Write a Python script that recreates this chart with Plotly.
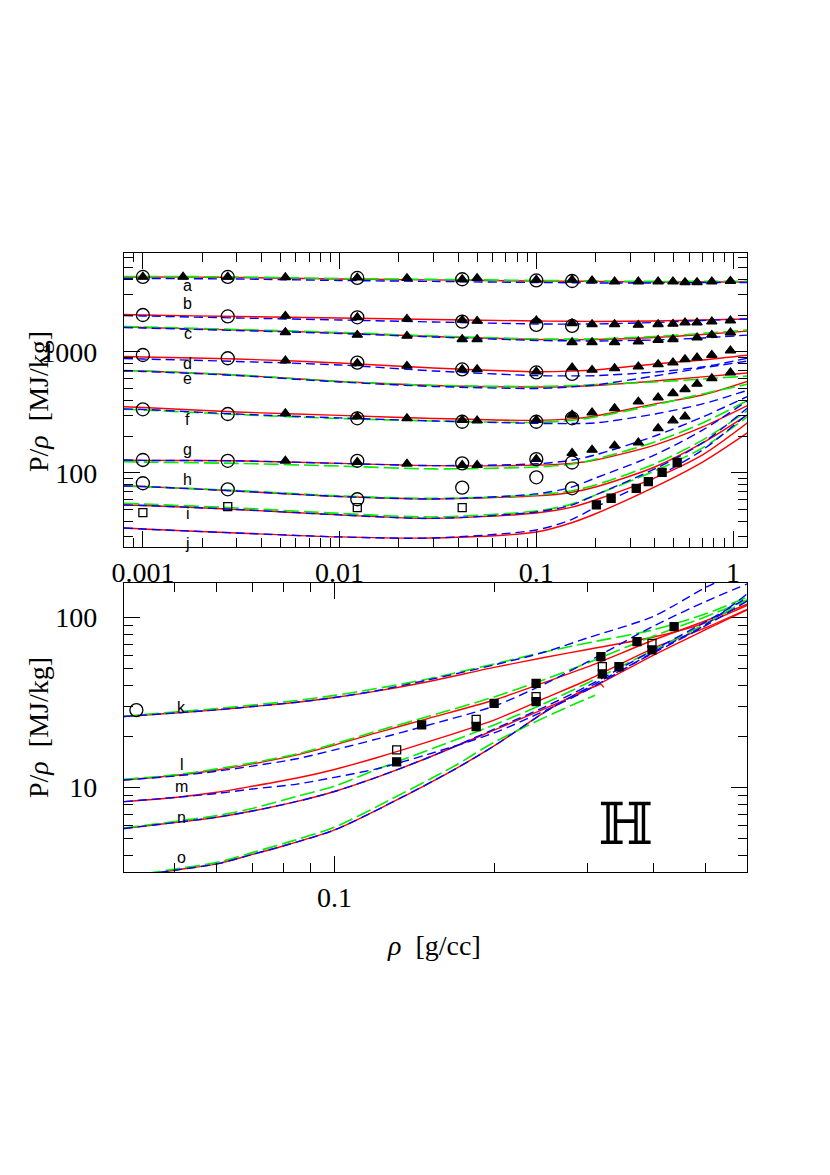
import math
import plotly.graph_objects as go

# ---------------- top panel: isotherms a..j ----------------
rho_top = [0.0008, 0.001, 0.003, 0.01, 0.03, 0.1, 0.15, 0.2, 0.4, 0.7, 1.2]

red_top = {
    "a": [4170, 4170, 4130, 4010, 3940, 3860, 3845, 3830, 3790, 3790, 3790],
    "b": [2040, 2020, 1965, 1910, 1856, 1804, 1795, 1787, 1804, 1839, 1874],
    "c": [1609, 1594, 1520, 1436, 1343, 1269, 1265, 1269, 1318, 1395, 1491],
    "d": [918, 909, 875, 811, 738, 687, 695, 710, 796, 859, 944],
    "e": [701, 697, 645, 570, 529, 514, 519, 529, 576, 622, 671],
    "f": [353, 348, 319, 299, 282, 272, 280, 296, 372, 441, 576],
    "g": [128, 127, 126, 120, 115, 116, 120, 128, 170, 240, 365],
    "h": [78.1, 77.3, 70.9, 63.9, 61.0, 64.6, 69.0, 76.6, 112, 177, 307],
    "i": [54.4, 53.9, 49.9, 45.0, 42.1, 46.7, 52.0, 59.8, 90.9, 141, 264],
    "j": [35.1, 34.4, 31.9, 29.6, 29.0, 32.5, 38.6, 46.0, 76.6, 123, 218],
}
green_top = {
    "a": [4210, 4210, 4170, 4050, 3980, 3900, 3880, 3860, 3830, 3830, 3830],
    "c": [1624, 1609, 1535, 1449, 1356, 1281, 1278, 1281, 1343, 1422, 1520],
    "e": [703, 697, 645, 570, 529, 519, 527, 539, 565, 598, 633],
    "f": [336, 332, 304, 282, 269, 262, 272, 290, 365, 450, 544],
    "g": [124, 123, 120, 114, 108, 112, 118, 130, 180, 259, 401],
    "h": [78.1, 77.3, 71.6, 64.6, 61.6, 65.8, 71.0, 79.6, 119, 187, 332],
    "i": [56.2, 55.4, 51.4, 46.3, 43.3, 48.5, 55.0, 65.8, 104, 161, 296],
}
blue_top = {
    "a": [4050, 4050, 4010, 3900, 3830, 3750, 3735, 3720, 3720, 3750, 3750],
    "b": [2003, 1984, 1910, 1839, 1770, 1704, 1700, 1704, 1753, 1821, 1874],
    "c": [1594, 1579, 1505, 1422, 1330, 1245, 1236, 1233, 1256, 1305, 1382],
    "d": [884, 875, 835, 781, 697, 637, 634, 637, 683, 752, 892],
    "e": [697, 690, 639, 565, 519, 499, 514, 534, 633, 738, 843],
    "f": [338, 335, 307, 285, 269, 257, 256, 259, 307, 372, 485],
    "g": [128, 127, 126, 120, 115, 119, 127, 141, 202, 290, 433],
    "h": [78.1, 77.3, 70.9, 63.9, 61.0, 67.1, 76.0, 90.9, 141, 226, 401],
    "i": [54.4, 53.9, 49.9, 45.0, 42.1, 47.6, 54.0, 65.8, 108, 177, 351],
    "j": [35.1, 34.4, 31.9, 29.6, 29.0, 33.8, 41.0, 52.0, 90.9, 155, 313],
}

# simulation points
rho_circ = [0.001, 0.0027, 0.0123, 0.042, 0.1, 0.152]
circ_top = {
    "a": [4170, 4170, 4090, 3990, 3900, 3860],
    "b": [2020, 1965, 1935, 1780, 1672, 1640],
    "d": [944, 887, 816, 717, 677, 658],
    "f": [336, 307, 283, 265, 265, 283],
    "g": [128, 126, 126, 120, 130, 122],
    "h": [82.2, 73.3, 60.6, 75.6, 92.1, 74.7],
}
rho_osq_top = [0.001, 0.0027, 0.0123, 0.042]
osq_top = [47.0, 52.7, 51.7, 51.7]

rho_tri_a = [0.001, 0.0016, 0.0027, 0.0053, 0.0123, 0.022, 0.042, 0.05, 0.1, 0.152,
             0.192, 0.25, 0.33, 0.416, 0.495, 0.57, 0.656, 0.78, 0.97]
tri_a = [4170, 4170, 4170, 4140, 4110, 4070, 3990, 4070, 3940, 3940,
         3890, 3810, 3810, 3810, 3810, 3770, 3770, 3810, 3860]
rho_tri_bdf = [0.0053, 0.0123, 0.022, 0.042, 0.05, 0.1, 0.152, 0.192, 0.25, 0.33,
               0.416, 0.495, 0.57, 0.656, 0.78, 0.97]
tri_b = [1984, 1935, 1874, 1839, 1804, 1815, 1727, 1694, 1694, 1672, 1694, 1704, 1746, 1746, 1780, 1815]
tri_d = [848, 807, 766, 719, 719, 687, 742, 710, 733, 756, 791, 816, 870, 897, 944, 1025]
tri_f = [311, 292, 283, 274, 271, 274, 302, 315, 342, 388, 419, 456, 492, 544, 606, 675]
rho_tri_c = [0.0053, 0.0123, 0.022, 0.042, 0.05, 0.152, 0.192, 0.25, 0.33, 0.416,
             0.495, 0.656, 0.78, 0.97]
tri_c = [1455, 1382, 1356, 1274, 1274, 1203, 1203, 1203, 1216, 1256, 1274, 1313, 1382, 1444]
rho_tri_g = [0.0053, 0.0123, 0.022, 0.042, 0.05, 0.1, 0.152, 0.192, 0.25, 0.33, 0.416, 0.495, 0.57]
tri_g = [126, 123, 119, 116, 116, 130, 146, 155, 168, 178, 234, 271, 292]

rho_fsq_top = [0.202, 0.240, 0.322, 0.371, 0.436, 0.520]
fsq_top = [54.4, 61.8, 74.7, 84.7, 101, 122]

labels_top = ["a", "b", "c", "d", "e", "f", "g", "h", "i", "j"]
label_rho_top = 0.00169
label_y_top = [3512, 2493, 1409, 807, 598, 274, 157, 87.5, 46.4, 26.2]

# ---------------- bottom panel: isotherms k..o ----------------
rho_bot = [0.04, 0.05, 0.06, 0.07, 0.085, 0.1, 0.12, 0.15, 0.2, 0.25, 0.3, 0.4, 0.5, 0.6]
red_bot = {
    "k": [26.2, 27.5, 28.7, 30.0, 31.8, 33.9, 37.0, 42.0, 51.0, 58.5, 65.0, 77.0, 93.0, 118],
    "l": [11.1, 11.8, 12.7, 13.8, 15.6, 17.8, 21.0, 25.5, 32.8, 41.8, 51.3, 73.9, 95.6, 120],
    "m": [8.27, 8.76, 9.4, 10.2, 11.4, 12.8, 15.0, 18.6, 25.0, 33.7, 43.0, 66.3, 87.0, 112],
    "n": [5.75, 6.24, 6.7, 7.29, 8.3, 9.5, 11.5, 15.0, 21.8, 29.3, 37.6, 60.3, 84.7, 111],
}
green_bot = {
    "k": [26.3, 27.9, 29.2, 30.6, 32.6, 34.9, 38.3, 43.6, 53.4, 63.0, 71.0, 85.0, 105, 132],
    "l": [11.2, 11.9, 12.9, 14.0, 15.8, 18.1, 21.5, 26.2, 34.2, 43.5, 54.1, 78.0, 101, 127],
    "n": [5.79, 6.33, 6.85, 7.55, 8.9, 10.2, 12.8, 16.6, 23.4, 31.5, 41.3, 64.6, 91.8, 127],
}
blue_bot = {
    "k": [26.2, 27.5, 28.7, 30.0, 31.8, 33.9, 37.2, 43.0, 52.7, 63.0, 76.0, 102, 150, 196],
    "l": [11.1, 11.7, 12.5, 13.4, 14.8, 16.7, 19.3, 23.3, 30.2, 41.0, 54.9, 89.4, 124, 158],
    "m": [8.27, 8.76, 9.25, 9.82, 10.5, 11.5, 12.9, 15.7, 21.0, 28.5, 37.6, 62.9, 90.6, 138],
    "n": [5.75, 6.24, 6.7, 7.29, 8.3, 9.5, 11.5, 15.0, 22.1, 30.0, 39.6, 64.6, 94.3, 131],
}
rho_o_red = [0.044, 0.05, 0.0607, 0.07, 0.0812, 0.1, 0.1274, 0.1675, 0.2, 0.25, 0.29, 0.31, 0.318, 0.322]
red_o = [3.08, 3.27, 3.59, 4.05, 4.6, 5.64, 8.1, 12.7, 17.6, 28.0, 36.5, 39.4, 40.5, 38.9]
rho_o_green = [0.044, 0.05, 0.0607, 0.07, 0.0812, 0.1, 0.1274, 0.1675, 0.2, 0.25, 0.3, 0.31]
green_o = [3.12, 3.32, 3.66, 4.15, 4.75, 5.85, 8.5, 13.3, 18.5, 26.0, 33.5, 35.0]
rho_o_blue = [0.044, 0.05, 0.0607, 0.07, 0.0812, 0.1, 0.1274, 0.1675, 0.2, 0.25, 0.3, 0.4, 0.5, 0.6]
blue_o = [3.08, 3.27, 3.59, 4.05, 4.6, 5.64, 8.1, 12.7, 17.6, 28.0, 38.6, 62.0, 89.4, 125]

rho_circ_bot = [0.0423]
circ_bot = [28.6]
rho_fsq_bot = [0.146, 0.2, 0.24, 0.318, 0.372, 0.437, 0.131, 0.185, 0.24, 0.32, 0.344, 0.397]
fsq_bot = [23.4, 31.3, 41.1, 59.0, 72.3, 88.5, 14.2, 22.9, 32.1, 46.7, 51.6, 64.6]
rho_osq_bot = [0.131, 0.185, 0.24, 0.32, 0.397]
osq_bot = [16.7, 25.2, 34.3, 51.6, 70.7]

labels_bot = ["k", "l", "m", "n", "o"]
label_rho_bot = 0.0515
label_y_bot = [29.8, 13.6, 10.1, 6.72, 3.91]

RED, GREEN, BLUE = "#ff0000", "#00ee00", "#0000ff"
SERIF = "Liberation Serif"
W, H = 830, 1175
OFF = 8  # page body margin


def px(p):
    return (p - OFF) / W


def py(p):
    return 1 - (p - OFF) / H


fig = go.Figure()


def add_lines(xs, ys, color, dash, xa, ya, width=1.4):
    fig.add_trace(go.Scatter(
        x=xs, y=ys, mode="lines", xaxis=xa, yaxis=ya,
        line=dict(color=color, width=width, dash=dash, shape="spline", smoothing=0.8),
        hoverinfo="skip"))


def add_points(xs, ys, symbol, size, xa, ya):
    fig.add_trace(go.Scatter(
        x=xs, y=ys, mode="markers", xaxis=xa, yaxis=ya,
        marker=dict(symbol=symbol, size=size, color="black", line=dict(color="black", width=1.3))))


for ys in red_top.values():
    add_lines(rho_top, ys, RED, "solid", "x", "y")
for ys in green_top.values():
    add_lines(rho_top, ys, GREEN, "15px,5px", "x", "y", 1.6)
for ys in blue_top.values():
    add_lines(rho_top, ys, BLUE, "9px,5px", "x", "y")

for ys in circ_top.values():
    add_points(rho_circ, ys, "circle-open", 13, "x", "y")
add_points(rho_osq_top, osq_top, "square-open", 8, "x", "y")
add_points(rho_tri_a, tri_a, "triangle-up", 9, "x", "y")
add_points(rho_tri_bdf, tri_b, "triangle-up", 9, "x", "y")
add_points(rho_tri_c, tri_c, "triangle-up", 9, "x", "y")
add_points(rho_tri_bdf, tri_d, "triangle-up", 9, "x", "y")
add_points(rho_tri_bdf, tri_f, "triangle-up", 9, "x", "y")
add_points(rho_tri_g, tri_g, "triangle-up", 9, "x", "y")
add_points(rho_fsq_top, fsq_top, "square", 8, "x", "y")

for ys in red_bot.values():
    add_lines(rho_bot, ys, RED, "solid", "x2", "y2")
add_lines(rho_o_red, red_o, RED, "solid", "x2", "y2")
for ys in green_bot.values():
    add_lines(rho_bot, ys, GREEN, "15px,5px", "x2", "y2", 1.6)
add_lines(rho_o_green, green_o, GREEN, "15px,5px", "x2", "y2", 1.6)
for ys in blue_bot.values():
    add_lines(rho_bot, ys, BLUE, "9px,5px", "x2", "y2")
add_lines(rho_o_blue, blue_o, BLUE, "9px,5px", "x2", "y2")

add_points(rho_circ_bot, circ_bot, "circle-open", 13, "x2", "y2")
add_points(rho_fsq_bot, fsq_bot, "square", 8, "x2", "y2")
add_points(rho_osq_bot, osq_bot, "square-open", 8, "x2", "y2")

# curve letters
for lab, yv in zip(labels_top, label_y_top):
    fig.add_annotation(x=math.log10(label_rho_top), y=math.log10(yv), xref="x", yref="y",
                       text=lab, showarrow=False, xanchor="center", yanchor="middle",
                       font=dict(family="Liberation Sans", size=16, color="black"))
for lab, yv in zip(labels_bot, label_y_bot):
    fig.add_annotation(x=math.log10(label_rho_bot), y=math.log10(yv), xref="x2", yref="y2",
                       text=lab, showarrow=False, xanchor="center", yanchor="middle",
                       font=dict(family="Liberation Sans", size=16, color="black"))


def minor_vals(e0, e1):
    return [m * 10 ** e for e in range(e0, e1) for m in range(2, 10)]


def axis(domain, rng, major, text, minor, anchor, standoff):
    return dict(
        type="log", domain=domain, range=rng, anchor=anchor, automargin=False,
        showline=True, linecolor="black", linewidth=1.3, mirror="allticks",
        ticks="inside", ticklen=16, tickwidth=1.2, tickcolor="black",
        tickvals=major, ticktext=text,
        minor=dict(ticks="inside", ticklen=9, tickwidth=1.2, tickcolor="black",
                   tickvals=minor, showgrid=False),
        showgrid=False, zeroline=False, ticklabelstandoff=standoff,
        tickfont=dict(family=SERIF, size=28, color="black"))


fig.update_layout(
    width=W, height=H, margin=dict(l=0, r=0, t=0, b=0),
    paper_bgcolor="white", plot_bgcolor="white", showlegend=False,
    xaxis=axis([px(124), px(747)], [-3.096, 0.071], [0.001, 0.01, 0.1, 1],
               ["0.001", "0.01", "0.1", "1"], minor_vals(-4, 1), "y", 0),
    yaxis=axis([py(547), py(253)], [1.388, 3.818], [100, 1000], ["100", "1000"],
               minor_vals(1, 4), "x", 20),
    xaxis2=axis([px(124), px(747)], [-1.397, -0.222], [0.1], ["0.1"], minor_vals(-2, 1), "y2", 0),
    yaxis2=axis([py(872), py(583)], [0.504, 2.204], [10, 100], ["10", "100"],
                minor_vals(0, 3), "x2", 20),
)

title_font = dict(family=SERIF, size=28, color="black")
fig.add_annotation(text="P/<i>ρ</i>  [MJ/kg]", x=px(38), y=py(402), xref="paper", yref="paper",
                   xanchor="center", yanchor="middle", textangle=-90, showarrow=False, font=title_font)
fig.add_annotation(text="P/<i>ρ</i>  [MJ/kg]", x=px(38), y=py(728), xref="paper", yref="paper",
                   xanchor="center", yanchor="middle", textangle=-90, showarrow=False, font=title_font)
fig.add_annotation(text="<i>ρ</i>  [g/cc]", x=px(434), y=py(945), xref="paper", yref="paper",
                   xanchor="center", yanchor="middle", showarrow=False, font=title_font)
fig.add_annotation(text="ℍ", x=px(625), y=py(824), xref="paper", yref="paper",
                   xanchor="center", yanchor="middle", showarrow=False,
                   font=dict(family="DejaVu Serif", size=58, color="black"))

fig.write_html("out.html")
